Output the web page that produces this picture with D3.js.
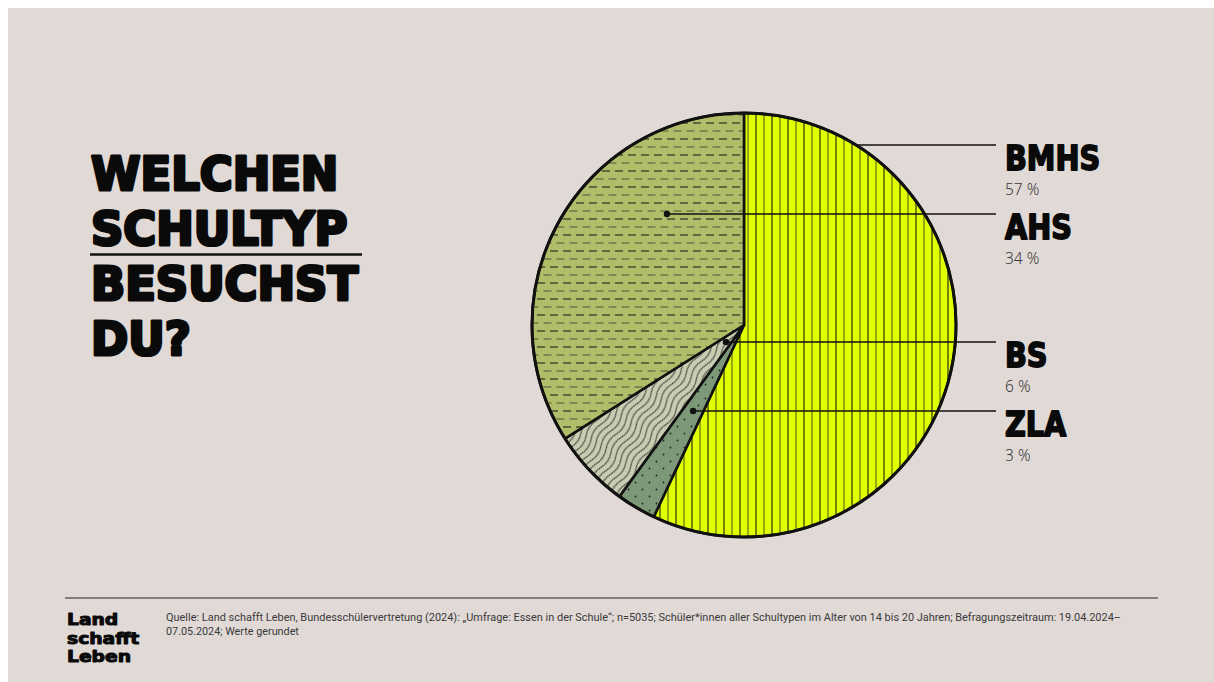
<!DOCTYPE html>
<html>
<head>
<meta charset="utf-8">
<script src="https://cdn.jsdelivr.net/npm/d3@7"></script>
<style>
  html, body { margin: 0; padding: 0; background: #ffffff; }
  svg { display: block; }
</style>
</head>
<body>
<svg id="chart" width="1214" height="682"></svg>
<script>
// ---- data ----
const categories = ["BMHS", "ZLA", "BS", "AHS"];          // clockwise order from 12 o'clock
const values = [57, 3, 6, 34];                              // percent
const legendOrder = ["BMHS", "AHS", "BS", "ZLA"];           // top-to-bottom on the right
const percentLabels = ["57 %", "34 %", "6 %", "3 %"];
const titleLines = ["WELCHEN", "SCHULTYP", "BESUCHST", "DU?"];
const logoLines = ["Land", "schafft", "Leben"];
const sourceLines = [
  "Quelle: Land schafft Leben, Bundesschülervertretung (2024): „Umfrage: Essen in der Schule“; n=5035; Schüler*innen aller Schultypen im Alter von 14 bis 20 Jahren; Befragungszeitraum: 19.04.2024–",
  "07.05.2024; Werte gerundet"
];

// ---- layout / style ----
const W = 1214, H = 682;
const cx = 744, cy = 325, R = 212;
const bg = "#e0d9d6";
const fills = { BMHS: "url(#pVert)", ZLA: "url(#pDots)", BS: "url(#pWave)", AHS: "url(#pDash)" };
const legendLineY = { BMHS: 145, AHS: 214, BS: 342, ZLA: 411 };
const dotFrac = { BMHS: null, AHS: 0.716, BS: 0.5, ZLA: 0.5 };
const lineEndX = 996, labelX = 1005;

const svg = d3.select("#chart");
svg.append("rect").attr("x", 8).attr("y", 8).attr("width", W - 8).attr("height", H - 8).attr("fill", bg);

// ---- patterns ----
const defs = svg.append("defs");
// vertical lines (BMHS)
const pv = defs.append("pattern").attr("id", "pVert").attr("patternUnits", "userSpaceOnUse")
  .attr("width", 16).attr("height", 10).attr("x", cx);
pv.append("rect").attr("width", 16).attr("height", 10).attr("fill", "#e0ff00");
pv.append("line").attr("x1", 4).attr("x2", 4).attr("y1", 0).attr("y2", 10).attr("stroke", "#1e1e10").attr("stroke-width", 1.1);
pv.append("line").attr("x1", 12).attr("x2", 12).attr("y1", 0).attr("y2", 10).attr("stroke", "#55601a").attr("stroke-width", 1.1);
// dashes (AHS)
const pd = defs.append("pattern").attr("id", "pDash").attr("patternUnits", "userSpaceOnUse")
  .attr("width", 13).attr("height", 16).attr("y", 2);
pd.append("rect").attr("width", 13).attr("height", 16).attr("fill", "#b2bd69");
pd.append("line").attr("x1", 1).attr("x2", 9).attr("y1", 4).attr("y2", 4).attr("stroke", "#2e3020").attr("stroke-width", 1.2);
pd.append("line").attr("x1", 7.5).attr("x2", 13).attr("y1", 12).attr("y2", 12).attr("stroke", "#5f6440").attr("stroke-width", 1.2);
pd.append("line").attr("x1", 0).attr("x2", 2.5).attr("y1", 12).attr("y2", 12).attr("stroke", "#5f6440").attr("stroke-width", 1.2);
// waves (BS)
const pw = defs.append("pattern").attr("id", "pWave").attr("patternUnits", "userSpaceOnUse")
  .attr("width", 36).attr("height", 6).attr("patternTransform", "rotate(-56)");
pw.append("rect").attr("width", 36).attr("height", 6).attr("fill", "#c7ccb3");
pw.append("path").attr("d", "M0,3 Q9,-1.2 18,3 T36,3").attr("fill", "none")
  .attr("stroke", "#262a20").attr("stroke-width", 0.9);
// dots (ZLA)
const pdot = defs.append("pattern").attr("id", "pDots").attr("patternUnits", "userSpaceOnUse")
  .attr("width", 14).attr("height", 14);
pdot.append("rect").attr("width", 14).attr("height", 14).attr("fill", "#7c9878");
pdot.append("circle").attr("cx", 3.5).attr("cy", 3.5).attr("r", 0.9).attr("fill", "#1c261c");
pdot.append("circle").attr("cx", 10.5).attr("cy", 10.5).attr("r", 0.9).attr("fill", "#1c261c");

// ---- pie ----
const pie = d3.pie().sort(null).value(d => d.value);
const arcs = pie(categories.map((c, i) => ({ cat: c, value: values[i] })));
const arc = d3.arc().innerRadius(0).outerRadius(R);
const g = svg.append("g").attr("transform", `translate(${cx},${cy})`);
g.selectAll("path.slice").data(arcs).join("path")
  .attr("class", "slice")
  .attr("d", arc)
  .attr("fill", d => fills[d.data.cat])
  .attr("stroke", "#111")
  .attr("stroke-width", 2.6)
  .attr("stroke-linejoin", "round");
g.append("circle").attr("r", R).attr("fill", "none").attr("stroke", "#111").attr("stroke-width", 3);

// ---- leader lines and dots ----
const byCat = {};
arcs.forEach(a => byCat[a.data.cat] = a);
legendOrder.forEach((cat, i) => {
  const y = legendLineY[cat];
  const dy = y - cy;
  let x0;
  if (dotFrac[cat] === null) {
    x0 = cx + Math.sqrt(R * R - dy * dy);
  } else {
    const a = byCat[cat];
    const ang = a.startAngle + dotFrac[cat] * (a.endAngle - a.startAngle);
    const dirx = Math.sin(ang), diry = -Math.cos(ang);
    const t = dy / diry;
    x0 = cx + t * dirx;
    svg.append("circle").attr("cx", x0).attr("cy", y).attr("r", 3.2).attr("fill", "#111");
  }
  svg.append("line").attr("x1", x0).attr("x2", lineEndX).attr("y1", y).attr("y2", y)
    .attr("stroke", "#111").attr("stroke-width", 1.6);

  svg.append("text")
    .attr("transform", `translate(${labelX},${y + 25}) scale(0.87,1)`)
    .attr("font-family", "DejaVu Sans").attr("font-weight", "bold").attr("font-size", 33)
    .attr("fill", "#0a0a0a").attr("stroke", "#0a0a0a").attr("stroke-width", 1.8)
    .attr("stroke-linejoin", "round")
    .text(cat);
  svg.append("text")
    .attr("x", labelX).attr("y", y + 50)
    .attr("font-family", "Noto Sans").attr("font-weight", 300).attr("font-size", 15.5)
    .attr("fill", "#3a3a3a")
    .text(percentLabels[i]);
});

// ---- title ----
const titleBase = [190, 245, 300, 355];
titleLines.forEach((t, i) => {
  svg.append("text")
    .attr("transform", `translate(91,${titleBase[i]}) scale(0.955,1)`)
    .attr("font-family", "DejaVu Sans").attr("font-weight", "bold").attr("font-size", 47)
    .attr("fill", "#0a0a0a").attr("stroke", "#0a0a0a").attr("stroke-width", 3.2)
    .attr("stroke-linejoin", "round")
    .text(t);
});
svg.append("line").attr("x1", 90).attr("x2", 362).attr("y1", 254.5).attr("y2", 254.5)
  .attr("stroke", "#111").attr("stroke-width", 2.5);

// ---- footer ----
svg.append("line").attr("x1", 65).attr("x2", 1158).attr("y1", 598).attr("y2", 598)
  .attr("stroke", "#222").attr("stroke-width", 1.2);
const logoBase = [625, 643.5, 662];
logoLines.forEach((t, i) => {
  svg.append("text")
    .attr("transform", `translate(67,${logoBase[i]}) scale(1.2,1)`)
    .attr("font-family", "DejaVu Sans").attr("font-weight", "bold").attr("font-size", 15.6)
    .attr("fill", "#0a0a0a").attr("stroke", "#0a0a0a").attr("stroke-width", 1)
    .attr("stroke-linejoin", "round")
    .text(t);
});
const srcBase = [621, 635];
sourceLines.forEach((t, i) => {
  const tx = svg.append("text").attr("x", 166).attr("y", srcBase[i])
    .attr("font-family", "Roboto").attr("font-size", 10.8)
    .attr("fill", "#3a3a3a").text(t);
  if (i === 0) tx.attr("textLength", 955).attr("lengthAdjust", "spacingAndGlyphs");
});
</script>
</body>
</html>
